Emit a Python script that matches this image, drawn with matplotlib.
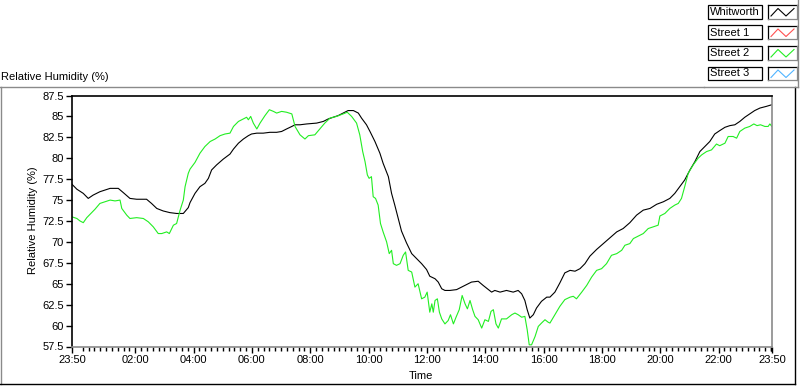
import matplotlib
matplotlib.use('agg')
import matplotlib.pyplot as plt
from matplotlib.lines import Line2D
from matplotlib.patches import Rectangle
import numpy as np

plt.rcParams['font.family'] = ['Liberation Sans', 'DejaVu Sans']
plt.rcParams['font.size'] = 8

# hours since midnight (23:50 of the previous day = -1/6)
whit_t = [-0.17, 0.00, 0.22, 0.39, 0.56, 0.79, 0.96, 1.14, 1.42, 1.59, 1.82, 2.05, 2.39, 2.56,
          2.74, 2.96, 3.19, 3.42, 3.65, 3.82, 3.88, 4.05, 4.22, 4.39, 4.51, 4.62, 4.79, 5.02,
          5.25, 5.37, 5.54, 5.71, 5.88, 5.99, 6.17, 6.39, 6.62, 6.85, 7.02, 7.19, 7.37, 7.48,
          7.65, 7.88, 8.22, 8.45, 8.62, 8.79, 8.96, 9.13, 9.30, 9.48, 9.65, 9.76, 9.93, 10.05,
          10.22, 10.39, 10.50, 10.68, 10.79, 10.90, 11.02, 11.13, 11.30, 11.48, 11.65, 11.82,
          11.99, 12.10, 12.28, 12.39, 12.51, 12.62, 12.79, 13.02, 13.19, 13.36, 13.53, 13.76,
          13.93, 14.11, 14.22, 14.33, 14.51, 14.73, 14.96, 15.13, 15.25, 15.36, 15.44, 15.53,
          15.65, 15.76, 15.93, 16.11, 16.22, 16.39, 16.56, 16.73, 16.91, 17.08, 17.25, 17.42,
          17.59, 17.82, 18.05, 18.28, 18.51, 18.73, 18.96, 19.19, 19.42, 19.65, 19.88, 20.11,
          20.33, 20.50, 20.67, 20.84, 21.02, 21.19, 21.36, 21.53, 21.70, 21.87, 22.04, 22.22,
          22.39, 22.56, 22.73, 22.90, 23.07, 23.24, 23.42, 23.64, 23.83]
whit_rh = [76.9, 76.3, 75.8, 75.2, 75.6, 76.0, 76.2, 76.4, 76.4, 75.9, 75.2, 75.1, 75.1, 74.6,
           74.0, 73.7, 73.5, 73.4, 73.4, 74.1, 74.7, 75.8, 76.6, 77.0, 77.6, 78.6, 79.2, 79.9,
           80.5, 81.1, 81.8, 82.3, 82.7, 82.9, 83.0, 83.0, 83.1, 83.1, 83.2, 83.5, 83.8, 84.0,
           84.0, 84.1, 84.2, 84.4, 84.7, 84.9, 85.1, 85.4, 85.7, 85.7, 85.4, 84.8, 84.0, 83.2,
           82.0, 80.6, 79.4, 77.8, 75.8, 74.4, 72.8, 71.3, 69.9, 68.6, 68.0, 67.4,
           66.7, 65.9, 65.6, 65.2, 64.4, 64.2, 64.2, 64.3, 64.6, 64.9, 65.2, 65.3,
           64.8, 64.3, 64.0, 64.2, 64.0, 64.2, 64.0, 64.2, 63.8, 63.0, 61.9, 60.9,
           61.3, 62.1, 62.9, 63.4, 63.4, 64.0, 65.1, 66.3, 66.6, 66.5, 66.8, 67.4,
           68.3, 69.1, 69.8, 70.5, 71.2, 71.6, 72.3, 73.2, 73.8, 74.0, 74.5, 74.8,
           75.2, 75.8, 76.6, 77.4, 78.6, 79.6, 80.8, 81.4, 82.0, 82.9, 83.3, 83.7,
           83.9, 84.0, 84.4, 84.9, 85.3, 85.7, 86.0, 86.2, 86.4]

st2_t = [-0.17, 0.00, 0.11, 0.22, 0.34, 0.51, 0.62, 0.79, 0.96, 1.14, 1.31, 1.48, 1.54, 1.71,
         1.82, 2.05, 2.28, 2.45, 2.62, 2.79, 2.91, 3.08, 3.17, 3.31, 3.42, 3.54, 3.65, 3.71,
         3.82, 3.88, 4.05, 4.22, 4.39, 4.57, 4.74, 4.91, 5.08, 5.25, 5.37, 5.54, 5.71, 5.82,
         5.88, 5.96, 6.05, 6.17, 6.28, 6.45, 6.60, 6.74, 6.85, 7.02, 7.19, 7.37, 7.48, 7.65,
         7.82, 7.94, 8.16, 8.33, 8.50, 8.68, 8.90, 9.13, 9.27, 9.42, 9.59, 9.70, 9.80, 9.88,
         9.96, 10.02, 10.10, 10.16, 10.24, 10.33, 10.41, 10.50, 10.62, 10.71, 10.79, 10.85,
         10.96, 11.08, 11.19, 11.27, 11.36, 11.48, 11.59, 11.70, 11.82, 11.93, 12.01, 12.10,
         12.17, 12.22, 12.28, 12.36, 12.43, 12.51, 12.62, 12.73, 12.81, 12.91, 13.00, 13.11,
         13.21, 13.31, 13.39, 13.48, 13.57, 13.65, 13.76, 13.88, 13.99, 14.11, 14.20, 14.28,
         14.37, 14.45, 14.56, 14.73, 14.91, 15.02, 15.13, 15.25, 15.36, 15.44, 15.51, 15.59,
         15.71, 15.82, 15.93, 16.05, 16.16, 16.22, 16.39, 16.56, 16.73, 16.91, 17.02, 17.13,
         17.31, 17.48, 17.65, 17.82, 17.99, 18.16, 18.33, 18.51, 18.68, 18.79, 18.96, 19.08,
         19.25, 19.42, 19.59, 19.76, 19.93, 19.99, 20.16, 20.33, 20.50, 20.62, 20.73, 20.84,
         20.96, 21.13, 21.30, 21.42, 21.59, 21.76, 21.93, 22.04, 22.22, 22.33, 22.50, 22.62,
         22.73, 22.90, 23.07, 23.21, 23.32, 23.44, 23.59, 23.70, 23.76, 23.83]
st2_rh = [73.0, 72.8, 72.5, 72.3, 72.9, 73.5, 73.9, 74.6, 74.8, 75.0, 74.9, 75.0, 74.0, 73.2,
          72.8, 72.9, 72.8, 72.4, 71.8, 71.0, 71.0, 71.2, 71.0, 72.0, 72.2, 73.8, 75.0, 76.6,
          78.2, 78.7, 79.5, 80.6, 81.4, 82.0, 82.3, 82.7, 82.9, 83.0, 83.8, 84.4, 84.7, 84.9,
          84.6, 85.0, 84.2, 83.5, 84.2, 85.1, 85.8, 85.6, 85.4, 85.6, 85.5, 85.3, 83.8, 82.8,
          82.3, 82.7, 82.8, 83.5, 84.2, 84.8, 85.0, 85.3, 85.5, 85.0, 84.2, 82.8, 80.8, 79.6,
          78.0, 77.6, 77.8, 75.4, 75.2, 74.4, 72.2, 71.2, 70.0, 68.6, 69.0, 67.4,
          67.2, 67.4, 68.4, 68.8, 66.6, 66.4, 64.6, 65.0, 63.2, 63.4, 64.0, 61.6,
          62.6, 61.6, 63.0, 63.2, 61.6, 60.8, 60.2, 60.6, 61.3, 60.2, 61.0, 61.9,
          63.6, 62.6, 62.0, 63.0, 61.9, 61.1, 60.7, 59.7, 60.7, 60.5, 61.7, 61.9,
          60.2, 59.7, 60.8, 60.8, 61.3, 61.5, 61.3, 61.0, 61.1, 59.5, 57.7, 57.7,
          58.7, 59.9, 60.3, 60.7, 60.4, 60.3, 61.3, 62.3, 63.1, 63.4, 63.5, 63.2,
          64.0, 64.8, 65.8, 66.6, 66.8, 67.4, 68.4, 68.6, 69.0, 69.6, 69.8, 70.4,
          70.7, 71.0, 71.6, 71.8, 72.0, 73.1, 73.4, 74.0, 74.4, 74.6, 75.2, 76.6,
          78.2, 79.2, 80.0, 80.4, 80.8, 81.0, 81.7, 81.5, 81.8, 82.6, 82.6, 82.4,
          83.2, 83.6, 83.8, 84.1, 83.9, 84.0, 83.8, 83.8, 84.1, 83.8]

legend_names = ['Whitworth', 'Street 1', 'Street 2', 'Street 3']
legend_colors = ['black', '#ff5050', '#22ee22', '#50b4ff']
xtick_pos = [-1/6, 2, 4, 6, 8, 10, 12, 14, 16, 18, 20, 22, 23 + 5/6]
xtick_labels = ['23:50', '02:00', '04:00', '06:00', '08:00', '10:00', '12:00',
                '14:00', '16:00', '18:00', '20:00', '22:00', '23:50']

W, H = 800, 386
fig = plt.figure(figsize=(8, 3.86), dpi=100)

def fx(px):
    return px / W

def fy(py):
    return 1 - py / H

ax = fig.add_axes([fx(72), fy(346.5), fx(700), 251 / H])
ax.plot(whit_t, whit_rh, color='black', lw=0.8)
ax.plot(st2_t, st2_rh, color=legend_colors[2], lw=0.8)

ax.set_xlim(-1/6, 23 + 5/6)
ax.set_ylim(57.5, 87.5)
ax.set_yticks(np.arange(57.5, 87.6, 2.5))
ax.set_yticklabels(['57.5', '60', '62.5', '65', '67.5', '70', '72.5', '75', '77.5',
                    '80', '82.5', '85', '87.5'])
ax.set_xticks(xtick_pos)
ax.set_xticklabels(xtick_labels)
minor = [m for m in np.arange(0, 24, 0.2) if abs(m - round(m / 2) * 2) > 0.01]
ax.set_xticks(minor + [23.8], minor=True)
ax.tick_params(axis='both', which='major', direction='out', length=4, width=1,
               labelsize=8, pad=2)
ax.tick_params(axis='x', which='minor', direction='out', length=3, width=1)
for s in ['top', 'left']:
    ax.spines[s].set_color('black')
for s in ['right', 'bottom']:
    ax.spines[s].set_color('#8a8a8a')
for s in ax.spines.values():
    s.set_linewidth(1.2)

fig.text(fx(33), fy(220), 'Relative Humidity (%)', rotation=90, ha='center', va='center')
fig.text(fx(421), fy(376), 'Time', ha='center', va='center')
fig.text(fx(1), fy(77), 'Relative Humidity (%)', ha='left', va='center')

# chart frame
def fline(x0, y0, x1, y1, color, lw=1):
    fig.add_artist(Line2D([fx(x0), fx(x1)], [fy(y0), fy(y1)], color=color, lw=lw,
                          transform=fig.transFigure))

fline(0, 87, 704, 87, '#8a8a8a')
fline(1, 87, 1, 384, '#8a8a8a')
fline(0, 384, 795, 384, 'black')
fline(795, 87, 795, 384, 'black')
fline(704, 87, 798, 87, '#8a8a8a')
fline(798, 0, 798, 87, '#8a8a8a')

# legend
for i, (name, col) in enumerate(zip(legend_names, legend_colors)):
    top = 5 + i * 20.5
    fig.add_artist(Rectangle((fx(708), fy(top + 13.5)), fx(54), 13.5 / H, fill=False,
                             edgecolor='black', lw=0.9, transform=fig.transFigure))
    fig.text(fx(710), fy(top + 7), name, ha='left', va='center', fontsize=8)
    fline(768, top, 797, top, 'black', 0.9)
    fline(768, top, 768, top + 13.5, 'black', 0.9)
    fline(768, top + 13.5, 797, top + 13.5, '#8a8a8a', 0.9)
    fline(797, top, 797, top + 13.5, '#8a8a8a', 0.9)
    zx = [771, 778, 786, 794]
    zy = [top + 11, top + 3.5, top + 11, top + 3.5]
    fig.add_artist(Line2D([fx(v) for v in zx], [fy(v) for v in zy], color=col, lw=0.8,
                          transform=fig.transFigure))

fig.savefig('out.png', dpi=100)
